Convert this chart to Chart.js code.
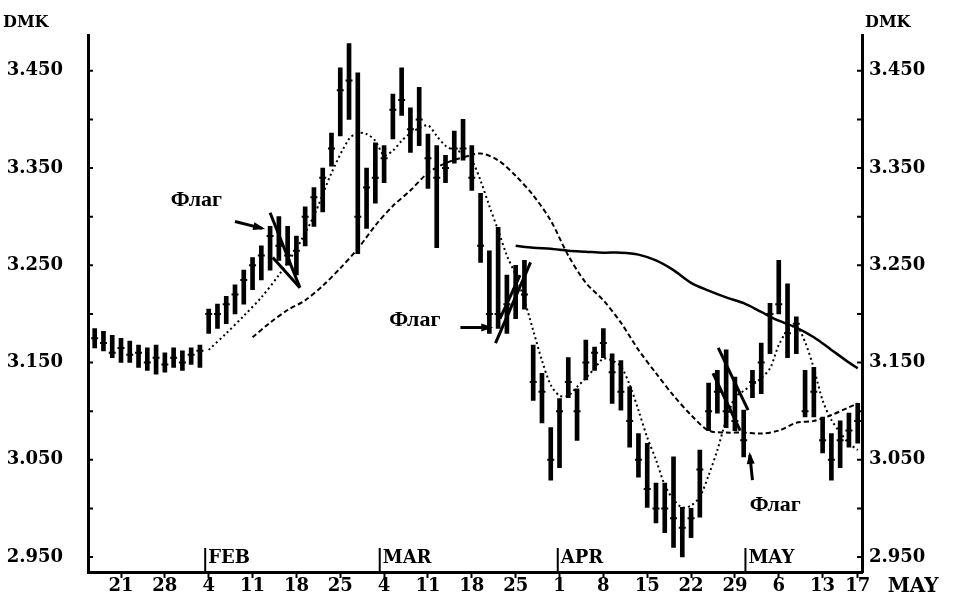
<!DOCTYPE html>
<html>
<head>
<meta charset="utf-8">
<script src="https://cdn.jsdelivr.net/npm/chart.js@4.4.0/dist/chart.umd.min.js"></script>
<style>
  html, body { margin: 0; padding: 0; background: #fff; }
  #wrap { width: 954px; height: 611px; position: relative; }
</style>
</head>
<body>
<div id="wrap"><canvas id="chart"></canvas></div>
<script>
// trading-day index (Jan 14 = 0), daily high / low / close
const dayIdx = [2,3,4,5,6,7,8,9,10,11,12,13,14,15,16,17,18,19,20,21,22,23,24,25,26,27,28,29,30,31,32,33,34,35,36,37,38,39,40,41,42,43,44,45,46,47,48,49,50,51,52,53,54,55,56,57,58,59,60,61,62,63,64,65,66,67,68,69,70,71,72,73,74,75,76,77,78,79,80,81,82,83,84,85,86,87,88,89];
const highs = [3.185,3.182,3.178,3.175,3.172,3.168,3.165,3.168,3.160,3.165,3.162,3.165,3.168,
  3.205,3.210,3.218,3.230,3.245,3.258,3.270,3.290,3.300,3.290,3.280,3.310,3.330,3.350,3.386,3.453,3.478,
  3.448,3.350,3.376,3.373,3.426,3.453,3.412,3.433,3.385,3.373,3.363,3.388,3.400,3.373,3.324,
  3.265,3.289,3.240,3.250,3.255,3.168,3.139,3.083,3.113,3.155,3.123,3.173,3.166,3.185,3.159,3.152,
  3.125,3.077,3.067,3.026,3.026,3.053,3.001,3.000,3.060,3.129,3.142,3.163,3.135,3.101,3.142,3.170,
  3.211,3.255,3.231,3.197,3.142,3.145,3.094,3.077,3.090,3.098,3.108];
const lows = [3.165,3.162,3.155,3.150,3.150,3.145,3.142,3.138,3.140,3.145,3.142,3.148,3.145,
  3.180,3.185,3.190,3.200,3.210,3.225,3.235,3.245,3.255,3.250,3.240,3.270,3.290,3.305,3.352,3.383,3.400,
  3.262,3.288,3.314,3.335,3.380,3.404,3.366,3.373,3.329,3.268,3.335,3.355,3.358,3.327,3.253,
  3.180,3.185,3.180,3.195,3.205,3.111,3.088,3.029,3.042,3.114,3.070,3.132,3.142,3.155,3.108,3.101,
  3.063,3.032,3.001,2.985,2.975,2.960,2.950,2.970,2.991,3.080,3.098,3.083,3.080,3.053,3.114,3.118,
  3.159,3.200,3.155,3.159,3.094,3.094,3.057,3.029,3.042,3.063,3.067];
const closes = [3.175,3.170,3.160,3.165,3.158,3.160,3.150,3.155,3.148,3.155,3.150,3.158,3.162,
  3.200,3.200,3.210,3.220,3.235,3.250,3.260,3.280,3.270,3.260,3.265,3.300,3.320,3.340,3.370,3.430,3.440,
  3.300,3.330,3.340,3.360,3.410,3.420,3.390,3.400,3.360,3.340,3.350,3.370,3.370,3.340,3.270,
  3.200,3.200,3.210,3.225,3.220,3.130,3.120,3.050,3.100,3.130,3.100,3.150,3.160,3.170,3.140,3.120,
  3.090,3.050,3.020,3.000,3.000,2.990,2.980,2.990,3.040,3.100,3.120,3.100,3.090,3.070,3.130,3.150,
  3.200,3.210,3.180,3.190,3.100,3.120,3.070,3.050,3.070,3.080,3.090];

// moving averages as drawn
const fastIdx = [15,17,19,21,23,25,27,29,31,32,33,34,35,36,37,38,39,40,41,42,43,44,45,46,47,48,49,50,51,52,53,54,55,56,57,58,59,60,61,62,63,64,65,66,67,68,69,70,71,72,73,74,75,76,77,78,79,80,81,82,83,84,85,86,87,88,89];
const fastMA = [3.163,3.180,3.198,3.217,3.240,3.267,3.301,3.345,3.380,3.386,3.385,3.378,3.363,3.368,3.378,3.386,3.391,3.394,3.383,3.373,3.368,3.366,3.358,3.337,3.311,3.286,3.260,3.240,3.214,3.183,3.152,3.127,3.116,3.116,3.125,3.134,3.144,3.154,3.152,3.146,3.127,3.101,3.073,3.050,3.024,3.009,3.001,3.003,3.012,3.034,3.060,3.091,3.114,3.121,3.127,3.134,3.144,3.168,3.183,3.188,3.171,3.144,3.111,3.091,3.078,3.067,3.060];
const midIdx = [20,22,24,26,28,30,32,34,36,38,40,42,44,46,48,50,52,54,56,58,60,62,64,66,68,70,72,74,76,78,80,82,84,86,88,89];
const midMA = [3.176,3.191,3.204,3.214,3.229,3.247,3.267,3.291,3.311,3.327,3.345,3.355,3.361,3.365,3.358,3.342,3.322,3.296,3.260,3.232,3.214,3.191,3.163,3.139,3.116,3.096,3.080,3.078,3.078,3.077,3.080,3.088,3.090,3.096,3.104,3.108];
const slowIdx = [50,52,54,56,58,60,62,64,66,68,70,72,74,76,78,80,82,84,86,88,89];
const slowMA = [3.270,3.268,3.267,3.265,3.264,3.263,3.263,3.261,3.255,3.245,3.232,3.224,3.217,3.211,3.202,3.193,3.186,3.176,3.163,3.150,3.144];

// axes
const yTicks = [2.95,3.00,3.05,3.10,3.15,3.20,3.25,3.30,3.35,3.40,3.45];
const xTickIdx = [5,10,15,20,25,30,35,40,45,50,55,60,65,70,75,80,85,89];
const xTickLabels = ['21','28','4','11','18','25','4','11','18','25','1','8','15','22','29','6','13','17'];
const monthIdx = [14.6,34.5,54.8,76.2];
const monthNames = ['FEB','MAR','APR','MAY'];

// flag annotations (data units)
const flagLines = [
  [[22.0,3.304],[25.4,3.227]],
  [[22.3,3.258],[25.4,3.227]],
  [[47.7,3.170],[51.7,3.253]],
  [[48.2,3.195],[50.5,3.240]],
  [[73.1,3.165],[76.5,3.101]],
  [[72.5,3.139],[75.6,3.080]]
];
const arrows = [
  [[18.0,3.295],[21.1,3.288]],
  [[43.7,3.186],[47.1,3.186]],
  [[77.0,3.029],[76.7,3.055]]
];
const flagText = [[13.6,3.317],[38.5,3.193],[79.6,3.003]];

Chart.defaults.font.family = '"DejaVu Serif", serif';
Chart.defaults.font.weight = 'bold';
Chart.defaults.font.size = 18;
Chart.defaults.color = '#000';

const decor = {
  id: 'decor',
  afterDatasetsDraw(chart) {
    const { ctx, chartArea: a, scales: { x, y } } = chart;
    ctx.save();
    ctx.strokeStyle = '#000';
    ctx.fillStyle = '#000';
    ctx.lineWidth = 2;
    yTicks.forEach(v => {
      const py = y.getPixelForValue(v);
      ctx.beginPath();
      ctx.moveTo(a.left, py); ctx.lineTo(a.left + 5, py);
      ctx.moveTo(a.right, py); ctx.lineTo(a.right - 5, py);
      ctx.stroke();
    });
    ctx.font = 'bold 18px "DejaVu Serif"';
    ctx.textAlign = 'left';
    ctx.textBaseline = 'alphabetic';
    monthIdx.forEach((m, i) => {
      const px = x.getPixelForValue(m);
      ctx.beginPath();
      ctx.moveTo(px, a.bottom); ctx.lineTo(px, a.bottom - 24);
      ctx.stroke();
      ctx.fillText(monthNames[i], px + 3, a.bottom - 9);
    });
    ctx.font = 'bold 20px "DejaVu Serif"';
    ctx.fillText('MAY', x.getPixelForValue(89) + 30, a.bottom + 20);
    ctx.font = 'bold 16px "DejaVu Serif"';
    ctx.fillText('DMK', 3, 27);
    ctx.fillText('DMK', a.right + 3, 27);

    // flag arrows
    ctx.lineWidth = 3;
    arrows.forEach(([p, q]) => {
      const x1 = x.getPixelForValue(p[0]), y1 = y.getPixelForValue(p[1]);
      const x2 = x.getPixelForValue(q[0]), y2 = y.getPixelForValue(q[1]);
      const ang = Math.atan2(y2 - y1, x2 - x1);
      ctx.beginPath();
      ctx.moveTo(x1, y1); ctx.lineTo(x2, y2);
      ctx.stroke();
      ctx.beginPath();
      ctx.moveTo(x2 + 3 * Math.cos(ang), y2 + 3 * Math.sin(ang));
      ctx.lineTo(x2 - 9 * Math.cos(ang) + 4 * Math.sin(ang), y2 - 9 * Math.sin(ang) - 4 * Math.cos(ang));
      ctx.lineTo(x2 - 9 * Math.cos(ang) - 4 * Math.sin(ang), y2 - 9 * Math.sin(ang) + 4 * Math.cos(ang));
      ctx.closePath();
      ctx.fill();
    });
    ctx.font = 'bold 22px "Liberation Serif"';
    ctx.textAlign = 'center';
    ctx.textBaseline = 'middle';
    flagText.forEach(([fx, fy]) => {
      ctx.fillText('Флаг', x.getPixelForValue(fx), y.getPixelForValue(fy));
    });
    ctx.restore();
  }
};

const yScale = (pos, width, pad) => ({
  type: 'linear',
  position: pos,
  min: 2.9346,
  max: 3.486,
  afterBuildTicks: s => { s.ticks = yTicks.map(v => ({ value: v })); },
  afterFit: s => { s.width = width; },
  ticks: {
    padding: pad,
    callback: (v, i) => (i % 2 === 0 ? v.toFixed(3) : '')
  },
  grid: { display: true, drawOnChartArea: false, drawTicks: false },
  border: { display: true, width: 3, color: '#000' }
});

const lineSet = (idx, vals, dash, w) => ({
  type: 'line',
  data: idx.map((d, i) => ({ x: d, y: vals[i] })),
  borderColor: '#000',
  borderWidth: w,
  borderDash: dash,
  pointRadius: 0,
  tension: 0.3,
  fill: false
});

new Chart(document.getElementById('chart'), {
  type: 'bar',
  data: {
    datasets: [
      {
        type: 'bar',
        data: dayIdx.map((d, i) => ({ x: d, y: [lows[i], highs[i]] })),
        backgroundColor: '#000',
        barThickness: 4,
        grouped: false
      },
      {
        type: 'scatter',
        data: dayIdx.map((d, i) => ({ x: d, y: closes[i] })),
        pointStyle: 'line',
        pointRadius: 3.5,
        borderWidth: 2,
        borderColor: '#000'
      },
      lineSet(fastIdx, fastMA, [2, 3], 2),
      lineSet(midIdx, midMA, [5, 3], 2),
      lineSet(slowIdx, slowMA, [], 2.5),
      ...flagLines.map(seg => ({
        type: 'line',
        data: seg.map(p => ({ x: p[0], y: p[1] })),
        borderColor: '#000',
        borderWidth: 3,
        pointRadius: 0
      }))
    ]
  },
  options: {
    responsive: true,
    maintainAspectRatio: false,
    animation: false,
    layout: { padding: { top: 35, left: 0, right: 0, bottom: 0 } },
    plugins: { legend: { display: false }, tooltip: { enabled: false } },
    scales: {
      x: {
        type: 'linear',
        min: 1.237,
        max: 89.49,
        offset: false,
        afterBuildTicks: s => { s.ticks = xTickIdx.map(v => ({ value: v })); },
        afterFit: s => { s.height = 39; },
        ticks: {
          autoSkip: false,
          maxRotation: 0,
          padding: -2,
          callback: (v, i) => xTickLabels[i]
        },
        grid: { display: true, offset: false, drawOnChartArea: false, drawTicks: true, tickLength: 6, tickWidth: 2, tickColor: '#000' },
        border: { display: true, width: 3, color: '#000' }
      },
      y: yScale('left', 88, 25),
      y2: yScale('right', 92, 7)
    }
  },
  plugins: [decor]
});
</script>
</body>
</html>
